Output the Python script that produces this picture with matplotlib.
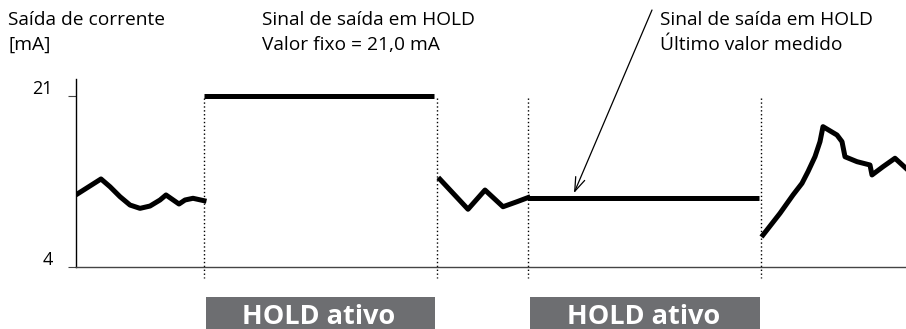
import matplotlib.pyplot as plt
import matplotlib.transforms as mtransforms
from matplotlib.patches import Rectangle

plt.rcParams["font.family"] = ["Open Sans", "DejaVu Sans"]

# time axis in arbitrary units, current in mA
seg1_t = [0.2, 2.5, 3.4, 4.4, 5.4, 6.4, 7.4, 8.4, 9.0, 10.3, 10.9, 11.7, 12.8]
seg1_ma = [11.3, 12.75, 11.98, 10.99, 10.16, 9.83, 10.06, 10.66, 11.16, 10.26, 10.66, 10.83, 10.59]

seg2_t = [36.4, 39.2, 40.9, 42.7, 44.1, 45.2]
seg2_ma = [12.72, 9.74, 11.65, 9.99, 10.49, 10.9]

seg3_t = [68.7, 70.4, 71.7, 72.6, 73.2, 73.9, 74.4, 74.7, 76.1, 76.6, 76.7, 76.9,
          78.1, 79.4, 79.6, 80.7, 81.9, 83.0]
seg3_ma = [7.18, 9.34, 11.16, 12.32, 13.48, 14.97, 16.46, 17.95, 17.12, 16.46, 15.96, 14.96,
           14.47, 14.14, 13.15, 13.97, 14.81, 13.81]

hold_start = [12.8, 45.2]
hold_end = [35.8, 68.3]
hold_fixed = 21.0
hold_last = seg2_ma[-1]

y_ticks = [4, 21]
box_label = "HOLD ativo"

fig = plt.figure(figsize=(9.06, 3.29), dpi=100)
ax = fig.add_axes([76 / 906, 62 / 329, 830 / 906, 188 / 329])
ax.set_xlim(0, 83)
ax.set_ylim(4, 4 + 188 / 10.06)

for s in ("top", "right"):
    ax.spines[s].set_visible(False)
ax.spines["left"].set_linewidth(1.0)
ax.spines["bottom"].set_linewidth(1.0)
ax.spines["bottom"].set_color("#444444")
ax.set_xticks([])
ax.set_yticks(y_ticks)
ax.set_yticklabels([str(v) for v in y_ticks], fontsize=13)
ax.tick_params(axis="y", length=5.8, width=0.8, pad=11, color="#444444")
up = mtransforms.ScaledTranslation(0, 9 / 100, fig.dpi_scale_trans)
for lab in ax.get_yticklabels():
    lab.set_transform(lab.get_transform() + up)

lw = 3.6
ax.plot(seg1_t, seg1_ma, color="black", lw=lw)
ax.plot(seg2_t, seg2_ma, color="black", lw=lw)
ax.plot(seg3_t, seg3_ma, color="black", lw=lw)
ax.plot([hold_start[0], hold_end[0]], [hold_fixed, hold_fixed], color="black", lw=lw,
        solid_capstyle="butt")
ax.plot([hold_start[1], hold_end[1]], [hold_last, hold_last], color="black", lw=lw,
        solid_capstyle="butt")

# dotted markers where HOLD starts and ends
for x in [hold_start[0], hold_end[0] + 0.3, hold_start[1], hold_end[1] + 0.2]:
    ax.plot([x, x], [20.8, 2.9], color="black", lw=1.0, ls=(0, (1, 1.8)), clip_on=False)

# grey "HOLD ativo" boxes under the axis
blend = mtransforms.blended_transform_factory(ax.transData, fig.transFigure)
for x0, x1 in zip(hold_start, hold_end):
    ax.add_patch(Rectangle((x0 + 0.2, 0), x1 - x0 - 0.1, 32 / 329, transform=blend,
                           facecolor="#6d6e71", edgecolor="none", clip_on=False))
    ax.text((x0 + x1) / 2, 4.5 / 329, box_label, transform=blend, ha="center", va="baseline",
            color="white", fontsize=19.5, fontweight="bold")

fs = 13.8
fig.text(8 / 906, 1 - 20 / 329, "Saída de corrente", fontsize=fs, va="center")
fig.text(8 / 906, 1 - 45 / 329, "[mA]", fontsize=fs, va="center")
fig.text(262 / 906, 1 - 20 / 329, "Sinal de saída em HOLD", fontsize=fs, va="center")
fig.text(262 / 906, 1 - 45 / 329, "Valor fixo = 21,0 mA", fontsize=fs, va="center")
fig.text(660 / 906, 1 - 20 / 329, "Sinal de saída em HOLD", fontsize=fs, va="center")
fig.text(660 / 906, 1 - 45 / 329, "Último valor medido", fontsize=fs, va="center")

ax.annotate("", xy=(49.8, hold_last + 0.45), xycoords="data",
            xytext=(652 / 906, 1 - 10 / 329), textcoords="figure fraction",
            arrowprops=dict(arrowstyle="->,head_length=1.0,head_width=0.35",
                            color="black", lw=0.9, shrinkA=0, shrinkB=0))

fig.savefig("out.png", dpi=100)
